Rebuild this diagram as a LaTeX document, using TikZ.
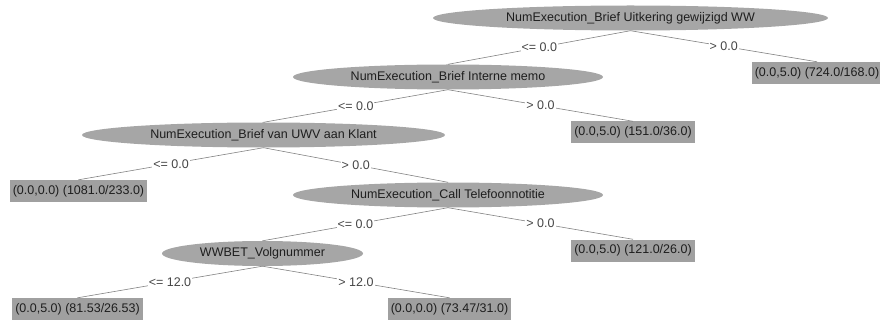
\documentclass[tikz,border=0pt]{standalone}
\usepackage{fontspec}
\setmainfont{Liberation Sans}
\usetikzlibrary{shapes.geometric}
\definecolor{nodegray}{RGB}{166,166,166}
\definecolor{leafgray}{RGB}{160,160,160}
\definecolor{edgegray}{RGB}{130,130,130}
\definecolor{txt}{RGB}{30,30,30}
\definecolor{lbltxt}{RGB}{70,70,70}
\tikzset{
  every node/.style={font=\fontsize{12.5}{14}\selectfont, text=txt},
  split/.style={ellipse, fill=nodegray, inner sep=0pt, minimum height=25pt},
  leaf/.style={rectangle, fill=leafgray, inner xsep=3pt, inner ysep=0pt, minimum height=22pt},
  edge/.style={draw=edgegray, line width=0.6pt},
  lbl/.style={fill=white, inner sep=1pt, text=lbltxt, midway}
}
\begin{document}
\begin{tikzpicture}[x=1pt,y=-1pt]
\useasboundingbox (0,0) rectangle (880,323);
\node[split, minimum width=395pt] (n1) at (630.5,18) {NumExecution\_Brief Uitkering gewijzigd WW};
\node[split, minimum width=310pt] (n2) at (448,77) {NumExecution\_Brief Interne memo};
\node[leaf] (l1) at (817,73) {(0.0,5.0) (724.0/168.0)};
\node[split, minimum width=363pt] (n3) at (263.5,135) {NumExecution\_Brief van UWV aan Klant};
\node[leaf] (l2) at (633,132.5) {(0.0,5.0) (151.0/36.0)};
\node[leaf] (l3) at (78.5,191) {(0.0,0.0) (1081.0/233.0)};
\node[split, minimum width=310pt] (n4) at (448,195) {NumExecution\_Call Telefoonnotitie};
\node[leaf] (l4) at (633,250.5) {(0.0,5.0) (121.0/26.0)};
\node[split, minimum width=201pt] (n5) at (262.5,253.5) {WWBET\_Volgnummer};
\node[leaf] (l5) at (77.5,309) {(0.0,5.0) (81.53/26.53)};
\node[leaf] (l6) at (449.5,309) {(0.0,0.0) (73.47/31.0)};

\draw[edge] (n1.south) -- node[lbl] {<= 0.0} (n2.north);
\draw[edge] (n1.south) -- node[lbl] {> 0.0} (l1.north);
\draw[edge] (n2.south) -- node[lbl] {<= 0.0} (n3.north);
\draw[edge] (n2.south) -- node[lbl] {> 0.0} (l2.north);
\draw[edge] (n3.south) -- node[lbl] {<= 0.0} (l3.north);
\draw[edge] (n3.south) -- node[lbl] {> 0.0} (n4.north);
\draw[edge] (n4.south) -- node[lbl] {<= 0.0} (n5.north);
\draw[edge] (n4.south) -- node[lbl] {> 0.0} (l4.north);
\draw[edge] (n5.south) -- node[lbl] {<= 12.0} (l5.north);
\draw[edge] (n5.south) -- node[lbl] {> 12.0} (l6.north);
\end{tikzpicture}
\end{document}
